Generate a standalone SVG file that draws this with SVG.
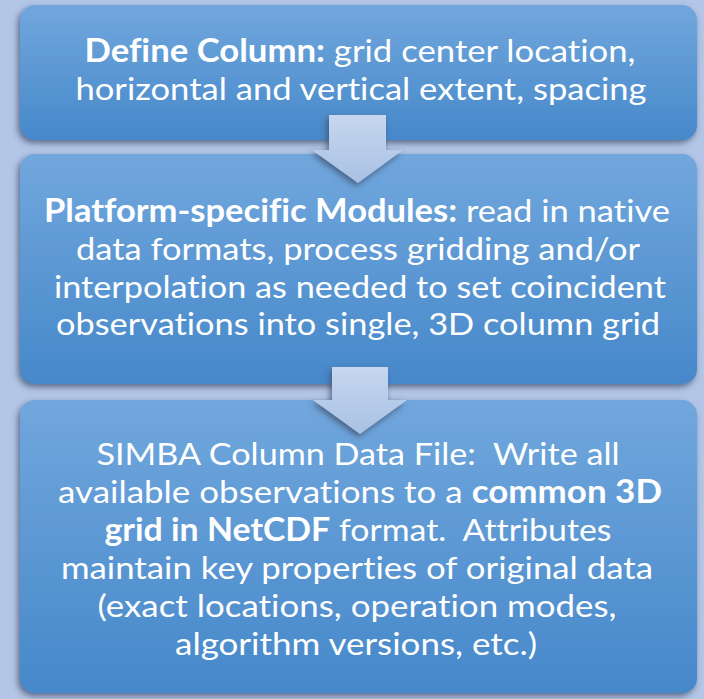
<svg xmlns="http://www.w3.org/2000/svg" width="704" height="699" viewBox="0 0 704 699">
<defs>
<linearGradient id="boxg" x1="0" y1="0" x2="0" y2="1">
<stop offset="0" stop-color="#71a7dd"/>
<stop offset="1" stop-color="#4688ca"/>
</linearGradient>
<linearGradient id="arrg" x1="0" y1="0" x2="0" y2="1">
<stop offset="0" stop-color="#c6d7ee"/>
<stop offset="1" stop-color="#a9c1e4"/>
</linearGradient>
<filter id="sh" x="-10%" y="-10%" width="120%" height="130%">
<feGaussianBlur in="SourceAlpha" stdDeviation="3"/>
<feOffset dx="-2" dy="3" result="b"/>
<feFlood flood-color="#3c4a66" flood-opacity="0.75"/>
<feComposite in2="b" operator="in"/>
<feMerge><feMergeNode/><feMergeNode in="SourceGraphic"/></feMerge>
</filter>
</defs>
<style>
.box{fill:url(#boxg);filter:url(#sh)}
.arr{fill:url(#arrg);filter:url(#sh)}
text{font-family:Lato,"Open Sans",sans-serif;font-size:31.5px;fill:#fff;text-anchor:middle;white-space:pre;font-variant-ligatures:none}
.b{font-weight:bold}
</style>
<rect width="704" height="699" fill="#b3c6e7"/>
<g id="box1">
<rect class="box" x="20" y="5" width="677" height="135" rx="15"/>
<text x="360" y="62" textLength="551" lengthAdjust="spacingAndGlyphs"><tspan class="b">Define Column:</tspan> grid center location,</text>
<text x="361" y="100" textLength="571" lengthAdjust="spacingAndGlyphs">horizontal and vertical extent, spacing</text>
</g>
<g id="box2">
<rect class="box" x="20" y="154" width="677" height="230" rx="15"/>
<text x="357" y="222" textLength="626" lengthAdjust="spacingAndGlyphs"><tspan class="b">Platform-specific Modules:</tspan> read in native</text>
<text x="358" y="260" textLength="564" lengthAdjust="spacingAndGlyphs">data formats, process gridding and/or</text>
<text x="360" y="298" textLength="612" lengthAdjust="spacingAndGlyphs">interpolation as needed to set coincident</text>
<text x="358" y="335" textLength="604" lengthAdjust="spacingAndGlyphs">observations into single, 3D column grid</text>
</g>
<g id="box3">
<rect class="box" x="20" y="400" width="677" height="293" rx="15"/>
<text x="358" y="465" textLength="523" lengthAdjust="spacingAndGlyphs">SIMBA Column Data File:  Write all</text>
<text x="360" y="503" textLength="604" lengthAdjust="spacingAndGlyphs">available observations to a <tspan class="b">common 3D</tspan></text>
<text x="358" y="541" textLength="507" lengthAdjust="spacingAndGlyphs"><tspan class="b">grid in NetCDF</tspan> format.  Attributes</text>
<text x="357" y="579" textLength="592" lengthAdjust="spacingAndGlyphs">maintain key properties of original data</text>
<text x="357" y="617" textLength="519" lengthAdjust="spacingAndGlyphs">(exact locations, operation modes,</text>
<text x="356" y="655" textLength="362" lengthAdjust="spacingAndGlyphs">algorithm versions, etc.)</text>
</g>
<g id="connectors">
<path id="arrow1" class="arr" d="M329,115 H386 V150 H403 L358,183 L312,150 H329 Z"/>
<path id="arrow2" class="arr" d="M332,367 H388 V400 H407 L360,434 L313,400 H332 Z"/>
</g>
</svg>
